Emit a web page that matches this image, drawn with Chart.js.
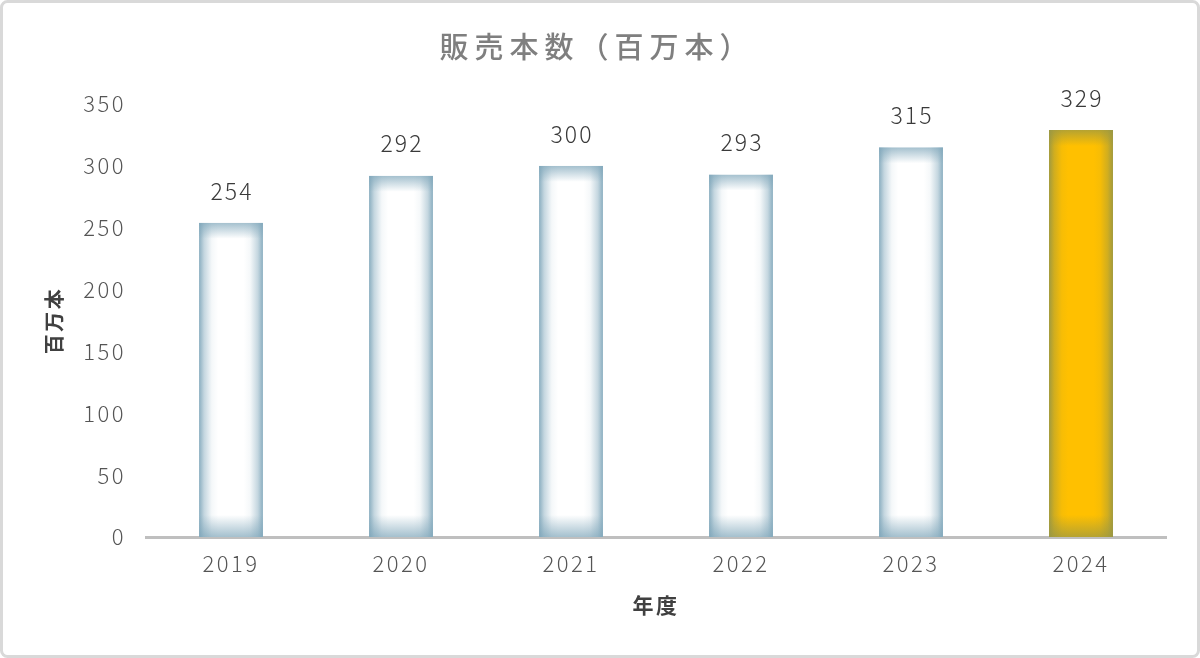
<!DOCTYPE html>
<html>
<head>
<meta charset="utf-8">
<script src="https://cdn.jsdelivr.net/npm/chart.js@4.4.1/dist/chart.umd.min.js"></script>
<style>
  html, body { margin: 0; padding: 0; background: #fff; }
  #wrap { width: 1200px; height: 658px; position: relative; }
</style>
</head>
<body>
<div id="wrap"><canvas id="chart" width="1200" height="658"></canvas></div>
<script>
// data
const years = ['2019', '2020', '2021', '2022', '2023', '2024'];
const unitsSold = [254, 292, 300, 293, 315, 329];
const chartTitle = '販売本数（百万本）';
const yTitle = '百万本';
const xTitle = '年度';

const FONT = '"Noto Sans CJK JP", "Noto Sans", sans-serif';
const highlight = years.length - 1; // 2024 is gold

// frame + title, and spaced-out axis text
const framePlugin = {
  id: 'frame',
  beforeDraw(chart) {
    const ctx = chart.ctx;
    ctx.save();
    ctx.fillStyle = '#fff';
    ctx.fillRect(0, 0, chart.width, chart.height);
    ctx.strokeStyle = '#d9d9d9';
    ctx.lineWidth = 3;
    ctx.beginPath();
    ctx.roundRect(1.5, 1.5, chart.width - 3, chart.height - 3, 6);
    ctx.stroke();
    ctx.restore();
    ctx.letterSpacing = '2.5px';
  },
  beforeDatasetsDraw(chart) {
    chart.ctx.letterSpacing = '0px';
  },
  afterDraw(chart) {
    const ctx = chart.ctx;
    ctx.save();
    ctx.font = '500 29px ' + FONT;
    ctx.letterSpacing = '6px';
    ctx.fillStyle = '#7f7f7f';
    ctx.textAlign = 'center';
    ctx.textBaseline = 'middle';
    ctx.fillText(chartTitle, 597, 47);
    ctx.restore();
  }
};

// edge shading on each bar, then value labels
const barLook = {
  id: 'barLook',
  afterDatasetsDraw(chart) {
    const ctx = chart.ctx;
    const meta = chart.getDatasetMeta(0);
    meta.data.forEach((bar, i) => {
      const left = bar.x - bar.width / 2;
      const w = bar.width;
      const top = bar.y, h = bar.base - bar.y;
      const gold = i === highlight;
      const edge = gold ? 'rgba(150,150,70,' : 'rgba(125,165,185,';
      ctx.save();
      ctx.beginPath();
      ctx.rect(left, top, w, h);
      ctx.clip();
      // sides
      const g = ctx.createLinearGradient(left, 0, left + w, 0);
      g.addColorStop(0, edge + '0.9)');
      g.addColorStop(0.08, edge + '0.45)');
      g.addColorStop(0.2, edge + '0.08)');
      g.addColorStop(0.3, edge + '0)');
      g.addColorStop(0.7, edge + '0)');
      g.addColorStop(0.8, edge + '0.08)');
      g.addColorStop(0.92, edge + '0.45)');
      g.addColorStop(1, edge + '0.9)');
      ctx.fillStyle = g;
      ctx.fillRect(left, top, w, h);
      // top
      const gt = ctx.createLinearGradient(0, top, 0, top + 16);
      gt.addColorStop(0, edge + '0.7)');
      gt.addColorStop(1, edge + '0)');
      ctx.fillStyle = gt;
      ctx.fillRect(left, top, w, 16);
      // bottom
      const gb = ctx.createLinearGradient(0, bar.base, 0, bar.base - 22);
      gb.addColorStop(0, edge + '0.7)');
      gb.addColorStop(1, edge + '0)');
      ctx.fillStyle = gb;
      ctx.fillRect(left, bar.base - 22, w, 22);
      ctx.restore();

      ctx.save();
      ctx.font = '300 23px ' + FONT;
      ctx.letterSpacing = '2px';
      ctx.fillStyle = '#3a3a3a';
      ctx.textAlign = 'center';
      ctx.textBaseline = 'middle';
      ctx.fillText(String(unitsSold[i]), bar.x + 1, bar.y - 32);
      ctx.restore();
    });
  }
};

new Chart(document.getElementById('chart'), {
  type: 'bar',
  data: {
    labels: years,
    datasets: [{
      data: unitsSold,
      backgroundColor: years.map((y, i) => i === highlight ? '#ffc000' : '#ffffff'),
      borderWidth: 0,
      barPercentage: 0.376,
      categoryPercentage: 1
    }]
  },
  options: {
    responsive: false,
    animation: false,
    layout: { padding: { top: 104, right: 34, left: 0, bottom: 0 } },
    plugins: {
      legend: { display: false },
      tooltip: { enabled: false },
      title: { display: false }
    },
    scales: {
      x: {
        grid: { display: false, drawTicks: false },
        border: { display: true, color: '#bfbfbf', width: 3 },
        ticks: { color: '#555555', font: { family: FONT, size: 22, weight: 300 }, padding: 13 },
        title: {
          display: true, text: xTitle, color: '#404040',
          font: { family: FONT, size: 21, weight: 'bold' },
          padding: { top: 0, bottom: 40 }
        },
        afterFit(scale) { scale.height = 121; }
      },
      y: {
        min: 0, max: 350,
        grid: { display: false, drawTicks: false },
        border: { display: false },
        ticks: { stepSize: 50, color: '#555555', font: { family: FONT, size: 22, weight: 300 }, padding: 20 },
        title: {
          display: true, text: yTitle, color: '#404040',
          font: { family: FONT, size: 20, weight: 'bold' },
          padding: { top: 42, bottom: 0 }
        },
        afterFit(scale) { scale.width = 146; }
      }
    }
  },
  plugins: [framePlugin, barLook]
});
</script>
</body>
</html>
